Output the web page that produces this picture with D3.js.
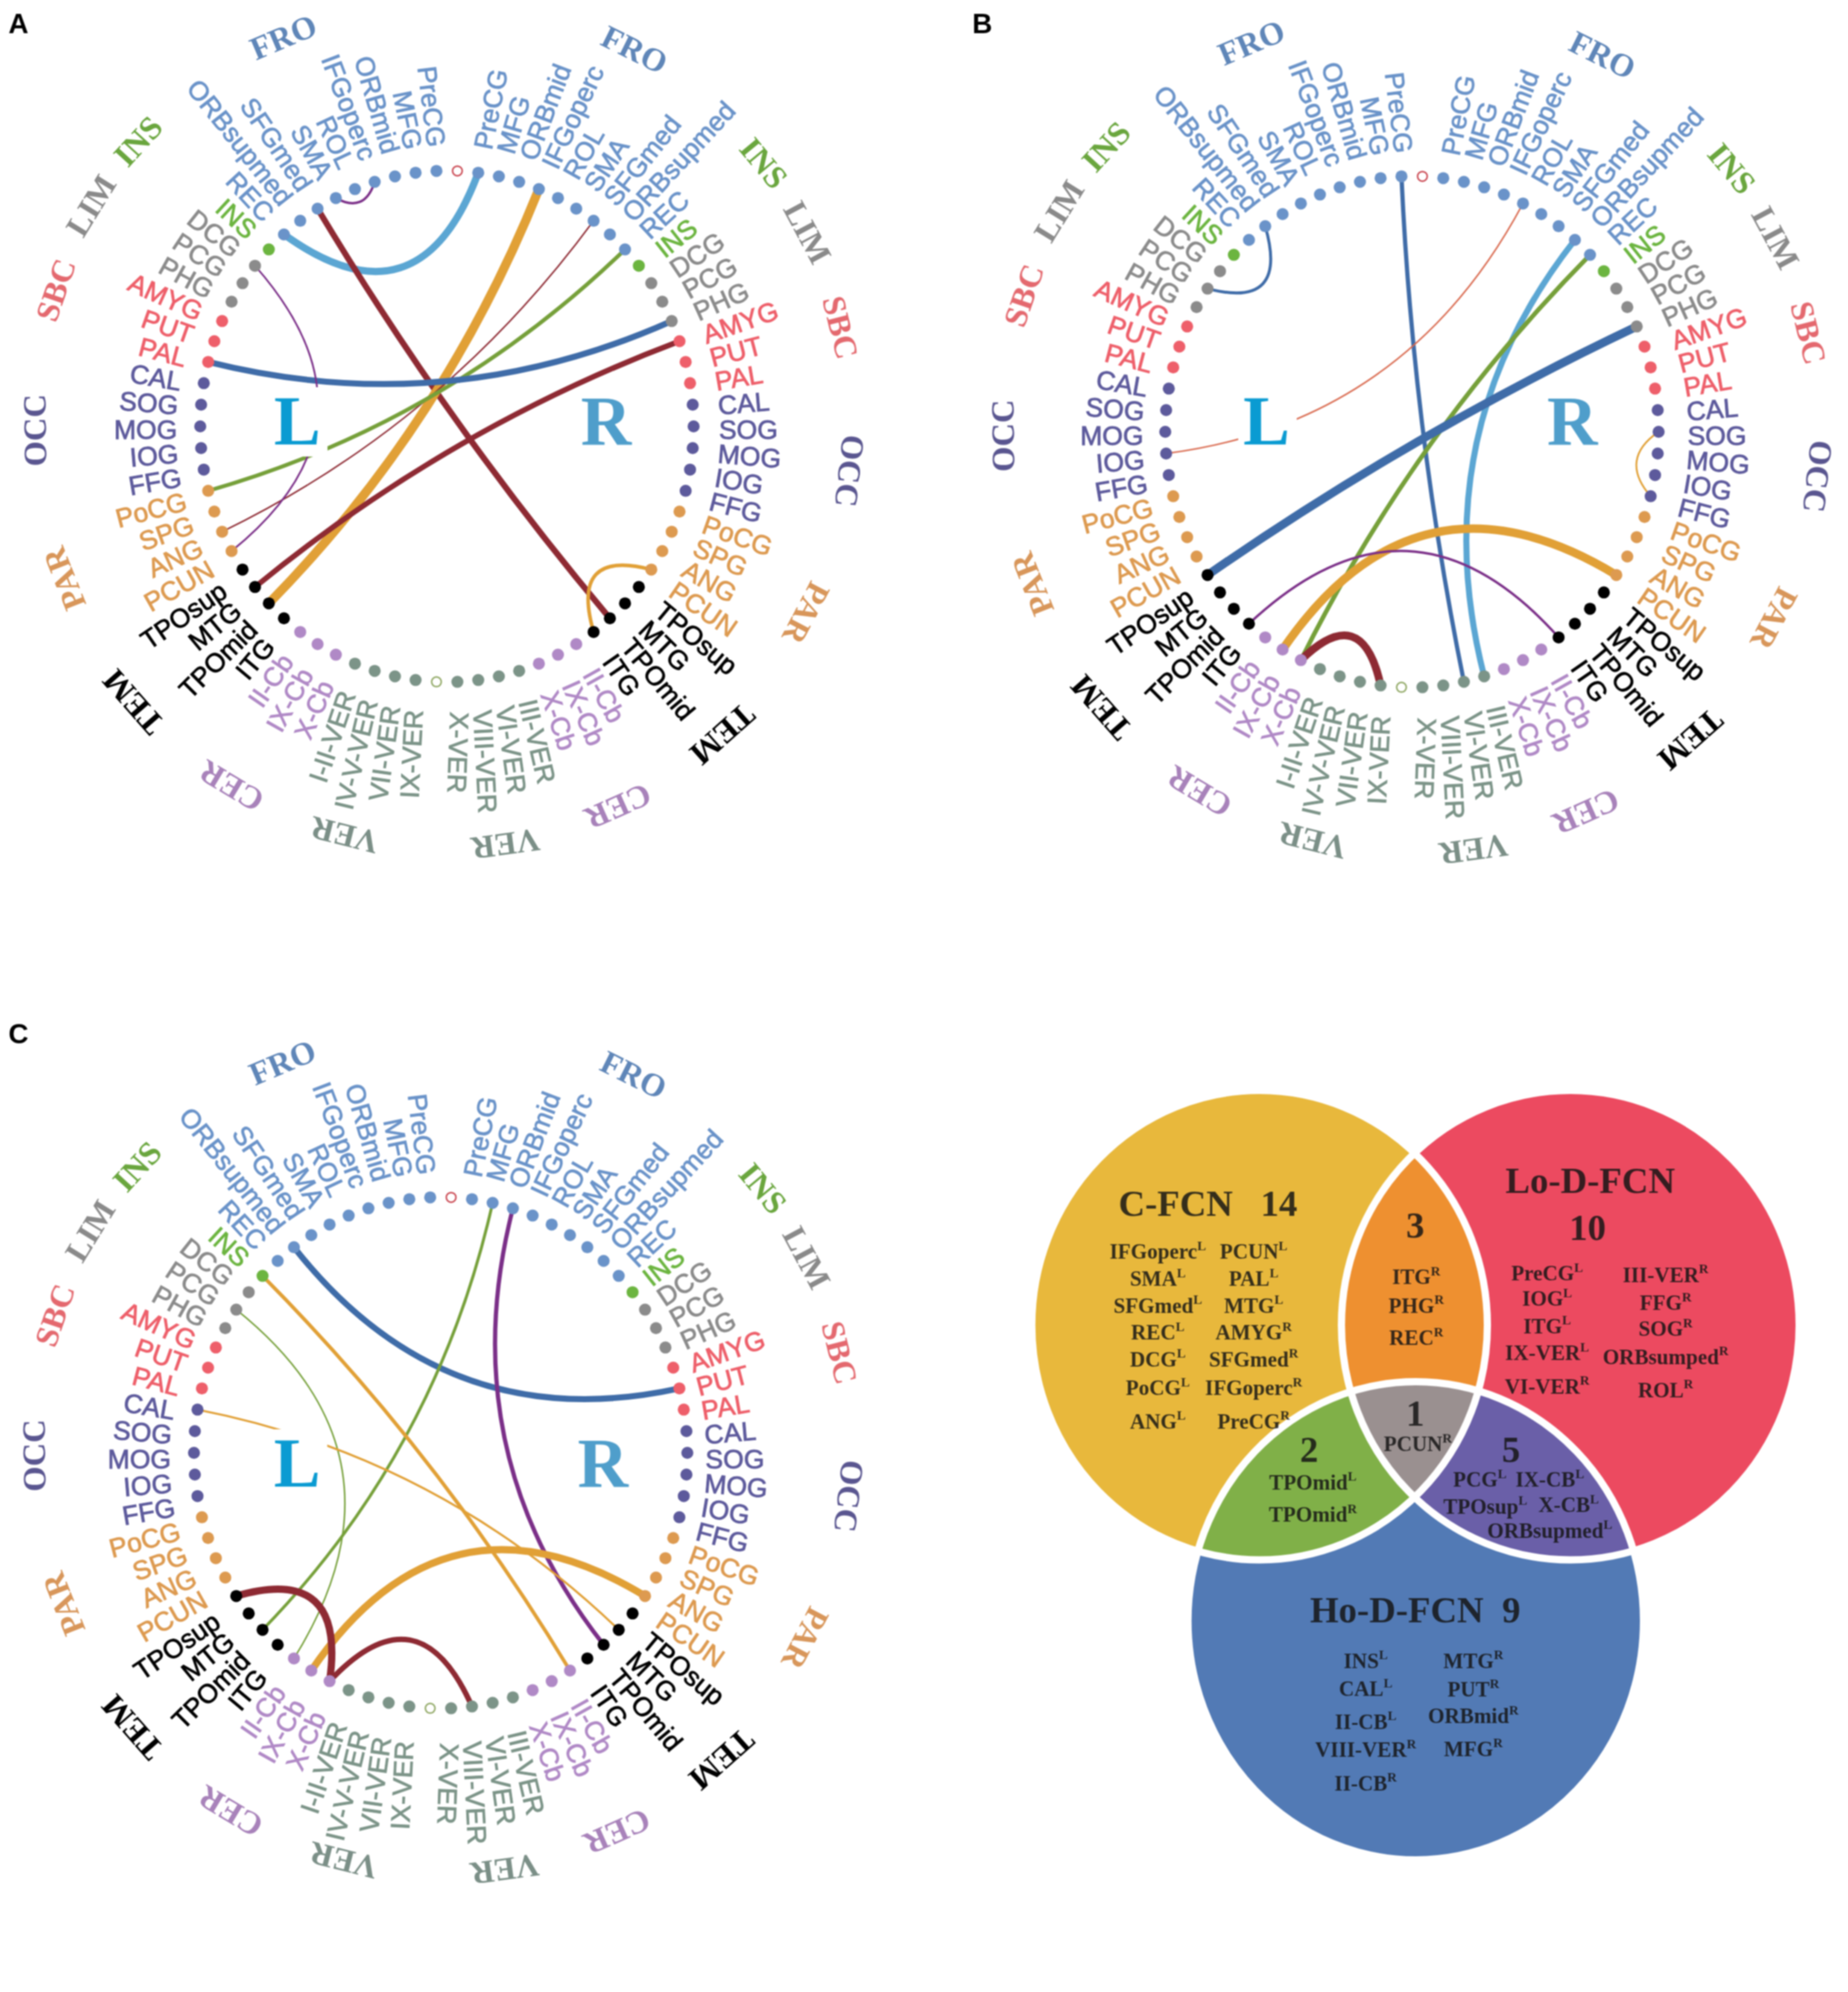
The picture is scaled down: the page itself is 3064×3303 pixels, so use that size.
<!DOCTYPE html>
<html><head><meta charset="utf-8">
<script src="https://cdn.jsdelivr.net/npm/d3@7"></script>
<style>html,body{margin:0;padding:0;background:#fff}svg{display:block;filter:blur(1.2px)}</style>
</head><body><svg id="chart" width="3064" height="3303" viewBox="0 0 3064 3303"></svg>
<script>
// ---------- DATA ----------
const regionsRight = ["PreCG","MFG","ORBmid","IFGoperc","ROL","SMA","SFGmed","ORBsupmed","REC","INS","DCG","PCG","PHG","AMYG","PUT","PAL","CAL","SOG","MOG","IOG","FFG","PoCG","SPG","ANG","PCUN","TPOsup","MTG","TPOmid","ITG","II-Cb","IX-Cb","X-Cb","III-VER","VI-VER","VIII-VER","X-VER"];
const regionsLeft = ["PreCG","MFG","ORBmid","IFGoperc","ROL","SMA","SFGmed","ORBsupmed","REC","INS","DCG","PCG","PHG","AMYG","PUT","PAL","CAL","SOG","MOG","IOG","FFG","PoCG","SPG","ANG","PCUN","TPOsup","MTG","TPOmid","ITG","II-Cb","IX-Cb","X-Cb","I-II-VER","IV-V-VER","VII-VER","IX-VER"];
const lobeSizes = [["FRO",9],["INS",1],["LIM",3],["SBC",3],["OCC",5],["PAR",4],["TEM",4],["CER",3],["VER",4]];
const lobeTitleNames  = ["FRO","FRO","INS","LIM","SBC","OCC","PAR","TEM","CER","VER","VER","CER","TEM","PAR","OCC","SBC","LIM","INS"];
const lobeTitleAngles = [-23,26.4,-47.5,-58.4,-71,-90.7,-111.8,-131.3,-149,-165.8,172.2,156,138.4,117.7,96.5,76,61.8,50.3];
const lobeTitleRadii  = [699,695,697,695,688,685,685,695,698,701,701,692,685,670,670,670,676,680];

const linksA = [["REC.L","PreCG.R"],["SMA.L","IFGoperc.L"],["SFGmed.L","TPOmid.R"],["IFGoperc.R","TPOmid.L"],["SFGmed.R","ANG.L"],["REC.R","PoCG.L"],["PAL.L","PHG.R"],["AMYG.R","MTG.L"],["DCG.L","PCUN.L"],["PCUN.R","ITG.R"]];
const widthsA = [12,4,10,15,2.5,6.5,10,9,3,6];
const huesA = ["sky","purple","wine","amber","wine","olive","navy","wine","purple","amber"];

const linksB = [["PreCG.L","VI-VER.R"],["ROL.R","IOG.L"],["ORBsupmed.R","III-VER.R"],["REC.R","X-Cb.L"],["PHG.R","TPOsup.L"],["ORBsupmed.L","PCG.L"],["SOG.R","FFG.R"],["PCUN.R","IX-Cb.L"],["ITG.L","ITG.R"],["X-Cb.L","IX-VER.L"]];
const widthsB = [7,2.5,10,7.5,14,5,3,14,4,13];
const huesB = ["navy","coral","sky","olive","navy","navy","amber","amber","purple","wine"];

const linksC = [["ORBsupmed.L","PUT.R"],["MFG.R","TPOmid.L"],["ORBmid.R","TPOmid.R"],["INS.L","II-Cb.R"],["PCG.L","II-Cb.L"],["CAL.L","MTG.R"],["PCUN.R","IX-Cb.L"],["TPOsup.L","X-Cb.L"],["X-Cb.L","VIII-VER.R"]];
const widthsC = [10,5,7,6,2.5,3.5,12,12,9];
const huesC = ["navy","olive","purple","amber","olive","amber","amber","wine","wine"];

const vennSetNames = ["C-FCN   14","Ho-D-FCN  9"];
const vennLoTitle = ["Lo-D-FCN","10"];
const vennCounts = ["3","1","2","5"];
const cFcnLeft = ["IFGoperc|L","SMA|L","SFGmed|L","REC|L","DCG|L","PoCG|L","ANG|L"];
const cFcnRight = ["PCUN|L","PAL|L","MTG|L","AMYG|R","SFGmed|R","IFGoperc|R","PreCG|R"];
const loLeft = ["PreCG|L","IOG|L","ITG|L","IX-VER|L","VI-VER|R"];
const loRight = ["III-VER|R","FFG|R","SOG|R","ORBsumped|R","ROL|R"];
const hoLeft = ["INS|L","CAL|L","II-CB|L","VIII-VER|R","II-CB|R"];
const hoRight = ["MTG|R","PUT|R","ORBmid|R","MFG|R"];
const cLo = ["ITG|R","PHG|R","REC|R"];
const allThree = ["PCUN|R"];
const cHo = ["TPOmid|L","TPOmid|R"];
const loHo = ["PCG|L","IX-CB|L","TPOsup|L","X-CB|L","ORBsupmed|L"];

// ---------- STYLE / LAYOUT ----------
const lobeColor = {FRO:"#6a93c9",INS:"#6cb540",LIM:"#8b8b8b",SBC:"#ee5f6a",OCC:"#5d5a9c",PAR:"#dd9a50",TEM:"#000000",CER:"#b089c6",VER:"#7c9488"};
const titleColor = {FRO:"#5f86b8",INS:"#6aa63e",LIM:"#8a8a8a",SBC:"#e4696f",OCC:"#5a5690",PAR:"#d8965a",TEM:"#000000",CER:"#a882ba",VER:"#7b8f87"};
const hue = {sky:"#5ba6d3",navy:"#3f6ca8",amber:"#e1a036",wine:"#8e2a33",olive:"#76a03a",purple:"#7b2f88",coral:"#d9694e"};
const panels = [
 {letter:"A",lx:14,ly:55,cx:741,cy:707,links:linksA,widths:widthsA,hues:huesA,lX:-248,rX:264,lrY:30,tDx:2,tDy:-2,labDx:2,labDy:5,labRx:449,labRy:469},
 {letter:"B",lx:1612,ly:55,cx:2341,cy:716,links:linksB,widths:widthsB,hues:huesB,lX:-241,rX:266,lrY:21,tDx:7,tDy:-2,labDx:6,labDy:6,labRx:451,labRy:469},
 {letter:"C",lx:14,ly:1730,cx:730.6,cy:2409,links:linksC,widths:widthsC,hues:huesC,lX:-238,rX:269,lrY:56,tDx:11,tDy:-4,labDx:-4,labDy:10,labRx:443,labRy:472}
];
const ringRx = 409, ringRy = 424;

// ---------- SCALES ----------
const slots = ["gapTop",...regionsRight.map(d=>d+".R"),"gapBottom",...regionsLeft.slice().reverse().map(d=>d+".L")];
const angleDeg = d3.scaleLinear().domain([0,slots.length]).range([0,360]);
const slotAngle = new Map(slots.map((s,i)=>[s,angleDeg(i+0.5)]));
const lobeOf = new Map();
{let i=0;for(const [n,k] of lobeSizes){for(let j=0;j<k;j++){lobeOf.set(regionsRight[i+j],n);lobeOf.set(regionsLeft[i+j],n);}i+=k;}}
const bend = d3.scaleLinear().domain([0,15,20,34,47,68,88,140,180]).range([1,.84,.67,.53,.40,.225,.085,.02,0]).clamp(true);
const rad = d=>d*Math.PI/180;
const ring = (deg,k=1)=>{const p=d3.pointRadial(rad(deg),k);return [p[0]*ringRx,p[1]*ringRy];};

const svg = d3.select("#chart");
svg.append("rect").attr("width",3064).attr("height",3303).attr("fill","#fff");

function linkPath(a,b){
  const ta=slotAngle.get(a), tb=slotAngle.get(b);
  let diff=((tb-ta)%360+360)%360; let mid;
  if(diff>180){diff=360-diff; mid=tb+diff/2;} else mid=ta+diff/2;
  const p=d3.path();
  const pa=ring(ta), pb=ring(tb), c=ring(mid,bend(diff));
  p.moveTo(pa[0],pa[1]); p.quadraticCurveTo(c[0],c[1],pb[0],pb[1]);
  return p.toString();
}
function labelRotation(a){
  const s=Math.sin(rad(a)), c=Math.cos(rad(a));
  const extra=(s>=0?1:-1)*4.5*c*c*c*c;
  const t=a+extra;
  return a<180?t-90:t+90;
}

panels.forEach(P=>{
  svg.append("text").attr("x",P.lx).attr("y",P.ly).attr("font-family","'Liberation Sans',Arial,sans-serif").attr("font-weight",700).attr("font-size",46).attr("fill","#000").text(P.letter);
  const g=svg.append("g").attr("transform",`translate(${P.cx},${P.cy})`);
  g.append("g").selectAll("path").data(P.links).join("path")
    .attr("d",d=>linkPath(d[0],d[1])).attr("fill","none")
    .attr("stroke",(d,i)=>hue[P.hues[i]]).attr("stroke-width",(d,i)=>P.widths[i]);
  [["L","#0a9bd2",P.lX],["R","#4f9ecb",P.rX]].forEach(([t,c,x])=>{
    if(t==="L") g.append("rect").attr("x",x-47).attr("y",P.lrY-95).attr("width",97).attr("height",115).attr("fill","#fff");
    g.append("text").attr("x",x).attr("y",P.lrY).attr("text-anchor","middle").attr("font-family","'Liberation Serif',serif").attr("font-weight",700).attr("font-size",116).attr("fill",c).text(t);
  });
  g.append("g").selectAll("circle").data(slots).join("circle")
    .attr("cx",d=>ring(slotAngle.get(d))[0])
    .attr("cy",d=>ring(slotAngle.get(d))[1])
    .attr("r",d=>d.startsWith("gap")?8:10)
    .attr("fill",d=>d.startsWith("gap")?"#fff":lobeColor[lobeOf.get(d.slice(0,-2))])
    .attr("stroke",d=>d==="gapTop"?"#c9444e":d==="gapBottom"?"#8fa763":"none").attr("stroke-width",2.5);
  g.append("g").selectAll("text").data(slots.filter(d=>!d.startsWith("gap"))).join("text")
    .attr("transform",d=>{const a=slotAngle.get(d),x=P.labDx+P.labRx*Math.sin(rad(a)),y=P.labDy-P.labRy*Math.cos(rad(a));
       return `translate(${x},${y}) rotate(${labelRotation(a)})`;})
    .attr("text-anchor",d=>slotAngle.get(d)<180?"start":"end")
    .attr("dominant-baseline","central")
    .attr("font-family","'Liberation Sans',Arial,sans-serif").attr("font-size",44)
    .attr("fill",d=>lobeColor[lobeOf.get(d.slice(0,-2))])
    .attr("stroke",d=>lobeColor[lobeOf.get(d.slice(0,-2))]).attr("stroke-width",1.1)
    .text(d=>d.slice(0,-2));
  g.append("g").selectAll("text").data(lobeTitleNames).join("text")
    .attr("transform",(d,i)=>{const p=d3.pointRadial(rad(lobeTitleAngles[i]),lobeTitleRadii[i]);return `translate(${p[0]+P.tDx},${p[1]+P.tDy}) rotate(${lobeTitleAngles[i]})`;})
    .attr("text-anchor","middle").attr("dominant-baseline","central")
    .attr("font-family","'Liberation Serif',serif").attr("font-weight",700).attr("font-size",54)
    .attr("fill",d=>titleColor[d]).text(d=>d);
});

// ---------- VENN ----------
const vx=d3.scaleLinear().domain([0,1568]).range([1650,3050]);
const vy=d3.scaleLinear().domain([0,1568]).range([1750,3150]);
const vr=d3.scaleLinear().domain([0,1568]).range([0,1400]);
const vC={x:vx(491),y:vy(501),rx:vr(423),ry:vr(436)}, vL={x:vx(1068),y:vy(501),rx:vr(425),ry:vr(436)}, vH={x:vx(781),y:vy(1050),rx:vr(423),ry:vr(444)};
const shape=(par,c)=>par.append("ellipse").attr("cx",c.x).attr("cy",c.y).attr("rx",c.rx).attr("ry",c.ry);
const defs=svg.append("defs");
[["cpC",vC],["cpL",vL],["cpH",vH]].forEach(([id,c])=>shape(defs.append("clipPath").attr("id",id),c));
const V=svg.append("g");
const disc=(c,col,par)=>shape(par,c).attr("fill",col);
disc(vC,"#e8b83c",V);disc(vL,"#ec4a60",V);disc(vH,"#527ab5",V);
disc(vL,"#ee9030",V.append("g").attr("clip-path","url(#cpC)"));
disc(vH,"#80b048",V.append("g").attr("clip-path","url(#cpC)"));
disc(vH,"#6a5fa8",V.append("g").attr("clip-path","url(#cpL)"));
disc(vH,"#9a9090",V.append("g").attr("clip-path","url(#cpC)").append("g").attr("clip-path","url(#cpL)"));
[vC,vL,vH].forEach(c=>shape(V,c).attr("fill","none").attr("stroke","#fff").attr("stroke-width",12));
const vTxt=(t,x,y,fs)=>V.append("text").attr("x",vx(x)).attr("y",vy(y)).attr("text-anchor","middle").attr("dominant-baseline","central")
   .attr("font-family","'Liberation Serif',serif").attr("font-weight",700).attr("font-size",fs).attr("fill","#151515").attr("fill-opacity",.85).style("white-space","pre").text(t);
function vEntry(s,x,y){const [n,h]=s.split("|");const t=vTxt(n,x,y,35);t.append("tspan").attr("dy",-11).attr("font-size",22).text(h);}
const col=(arr,x,ys)=>arr.forEach((s,i)=>vEntry(s,x,ys[i]));
vTxt(vennSetNames[0],395,275,61);
vTxt(vennLoTitle[0],1105,232,61);vTxt(vennLoTitle[1],1100,320,61);
vTxt(vennSetNames[1],780,1030,61);
[[780,315],[780,665],[583,732],[958,732]].forEach((p,i)=>vTxt(vennCounts[i],p[0],p[1],61));
col(cFcnLeft,302,[365,415,465,515,565,618,680]);
col(cFcnRight,480,[365,415,465,515,565,618,680]);
col(loLeft,1025,[405,452,503,553,615]);
col(loRight,1245,[408,460,508,560,622]);
col(hoLeft,688,[1125,1177,1238,1290,1352]);
col(hoRight,888,[1125,1178,1227,1288]);
col(cLo,782,[412,465,525]);
col(allThree,785,[722]);
col(cHo,590,[793,853]);
loHo.forEach((s,i)=>vEntry(s,[900,1030,910,1065,1030][i],[788,788,838,835,883][i]));
</script></body></html>
